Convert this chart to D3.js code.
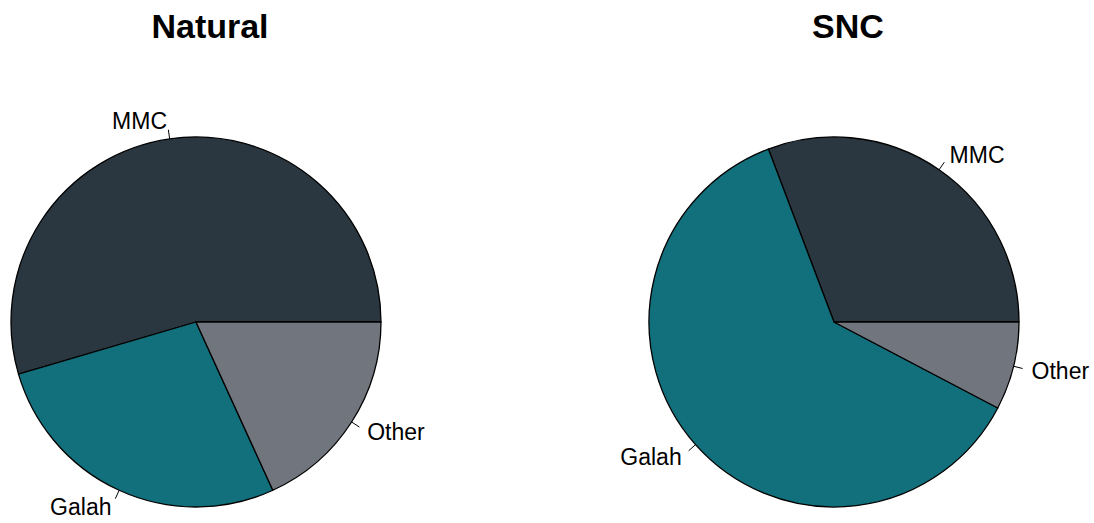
<!DOCTYPE html>
<html>
<head>
<meta charset="utf-8">
<script src="https://cdn.jsdelivr.net/npm/d3@7"></script>
<style>
  html, body { margin: 0; padding: 0; background: #fff; }
  svg { display: block; font-family: "Liberation Sans", Arial, sans-serif; }
</style>
</head>
<body>
<svg id="chart" width="1094" height="523"></svg>
<script>
// Shares of each source group, drawn counter-clockwise from 3 o'clock
const categories = ["MMC", "Galah", "Other"];
const naturalValues = [6, 3, 2];
const sncValues = [4, 8, 1];
const panelTitles = ["Natural", "SNC"];
const sliceColors = ["#2a3740", "#11707b", "#71757e"];

const svg = d3.select("#chart");
const radius = 185;
const cy = 322;
const panels = [
  { title: panelTitles[0], values: naturalValues, cx: 196 },
  { title: panelTitles[1], values: sncValues, cx: 834 }
];

const color = d3.scaleOrdinal().domain(categories).range(sliceColors);

const pie = d3.pie()
  .sort(null)
  .value(d => d.value)
  .startAngle(Math.PI / 2)
  .endAngle(Math.PI / 2 - 2 * Math.PI);

const arc = d3.arc().innerRadius(0).outerRadius(radius);

panels.forEach(p => {
  const data = categories.map((c, i) => ({ name: c, value: p.values[i] }));
  const g = svg.append("g").attr("transform", `translate(${p.cx},${cy})`);

  const slices = pie(data);

  g.selectAll("path.slice")
    .data(slices)
    .join("path")
    .attr("class", "slice")
    .attr("d", arc)
    .attr("fill", d => color(d.data.name))
    .attr("stroke", "#000")
    .attr("stroke-width", 1.3)
    .attr("stroke-linejoin", "round");

  slices.forEach(s => {
    const a = (s.startAngle + s.endAngle) / 2;
    const dx = Math.sin(a), dy = -Math.cos(a);
    g.append("line")
      .attr("x1", dx * radius).attr("y1", dy * radius)
      .attr("x2", dx * radius * 1.05).attr("y2", dy * radius * 1.05)
      .attr("stroke", "#000").attr("stroke-width", 1);
    g.append("text")
      .attr("x", dx * radius * 1.1)
      .attr("y", dy * radius * 1.1)
      .attr("dy", "0.36em")
      .attr("text-anchor", dx >= 0 ? "start" : "end")
      .attr("font-size", 23)
      .attr("fill", "#000")
      .text(s.data.name);
  });

  svg.append("text")
    .attr("x", p.cx + 14)
    .attr("y", 38)
    .attr("text-anchor", "middle")
    .attr("font-size", 34)
    .attr("font-weight", "bold")
    .attr("fill", "#000")
    .text(p.title);
});
</script>
</body>
</html>
